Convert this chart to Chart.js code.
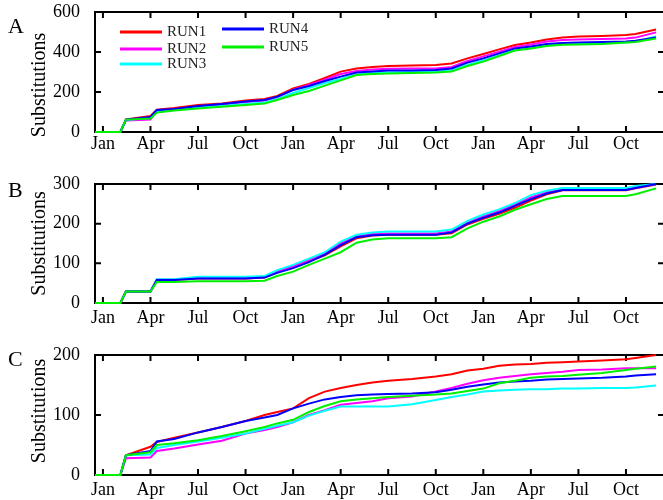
<!DOCTYPE html>
<html>
<head>
<meta charset="utf-8">
<script src="https://cdn.jsdelivr.net/npm/chart.js@4.4.0/dist/chart.umd.min.js"></script>
<style>
html, body { margin: 0; padding: 0; background: #fff; width: 663px; height: 500px; overflow: hidden; }
canvas { position: absolute; left: 0; }
</style>
</head>
<body>
<canvas id="panelA" width="670" height="170" style="top:0"></canvas>
<canvas id="panelB" width="670" height="170" style="top:170px"></canvas>
<canvas id="panelC" width="670" height="160" style="top:340px"></canvas>
<script>
// months since Jan of the first year
const months = [-0.5, 1.1, 1.45, 3.0, 3.4, 4.5, 6, 7.5, 9, 10.2, 11, 12, 13, 14, 15, 16, 17, 18, 19.5, 21, 22, 23, 24, 25, 26, 27, 28, 29, 30, 31.5, 33, 33.6, 34.9]
const monthTicks = [0, 3, 6, 9, 12, 15, 18, 21, 24, 27, 30, 33]
const tickNames = ["Jan", "Apr", "Jul", "Oct", "Jan", "Apr", "Jul", "Oct", "Jan", "Apr", "Jul", "Oct"]

const runNames = ["RUN1", "RUN2", "RUN3", "RUN4", "RUN5"]
const runColors = ["#ff0000", "#ff00ff", "#00ffff", "#0000ff", "#00f000"]

// panel A
const A_run1 = [0,0,63,80,112,120,135,142,157,165,180,218,240,270,302,318,325,330,332,335,343,368,390,413,435,447,463,472,477,480,485,490,513]
const A_run2 = [0,0,57,63,105,112,125,137,150,158,173,212,235,262,290,305,312,316,317,318,325,355,378,402,425,438,452,460,463,465,468,472,498]
const A_run3 = [0,0,60,70,100,110,122,130,140,148,165,195,220,245,265,288,296,298,300,302,308,335,358,383,410,420,433,440,442,444,448,452,478]
const A_run4 = [0,0,62,75,110,115,130,140,152,160,177,210,230,255,277,297,303,307,308,310,318,347,368,393,418,427,440,445,447,450,452,456,473]
const A_run5 = [0,0,62,68,97,108,118,126,135,143,160,185,205,232,258,285,290,293,295,297,302,330,352,380,407,418,430,436,438,440,447,450,468]

// panel B
const B_run1 = [0,0,29,29,58,58,62,62,62,64,78,90,105,120,143,163,170,172,172,172,176,198,212,225,240,258,274,284,284,284,284,289,299]
const B_run2 = [0,0,29,29,59,59,64,64,64,66,80,92,108,124,150,168,174,175,175,175,180,202,218,232,248,266,279,287,287,287,287,292,300]
const B_run3 = [0,0,29,29,60,60,66,66,66,68,83,96,112,128,155,172,178,180,180,180,185,207,223,236,252,272,283,290,290,290,290,295,300]
const B_run4 = [0,0,29,29,58,58,62,62,62,64,76,88,103,122,146,166,171,172,172,172,178,200,215,228,245,262,276,285,285,285,285,290,300]
const B_run5 = [0,0,29,29,53,53,55,55,55,56,68,79,96,112,128,152,160,163,163,163,166,188,205,218,235,249,262,270,270,270,270,274,289]

// panel C
const C_run1 = [0,0,33,47,55,62,71,80,90,100,105,111,128,139,145,150,154,157,160,164,168,174,177,182,184,185,187,188,189,191,193,195,200]
const C_run2 = [0,0,28,29,40,44,51,57,69,75,80,88,100,108,117,120,123,128,131,139,145,152,158,162,165,168,170,172,175,176,178,178,178]
const C_run3 = [0,0,33,34,45,50,56,62,69,77,82,88,99,107,114,114,114,114,118,125,130,134,139,141,142,143,143,144,144,145,145,146,149]
const C_run4 = [0,0,33,40,56,60,71,80,90,96,100,111,119,126,130,133,134,135,136,138,142,147,151,154,156,157,159,160,161,162,164,166,168]
const C_run5 = [0,0,33,38,50,53,58,65,73,80,86,92,105,115,123,126,128,130,132,134,136,140,144,153,157,162,164,165,167,170,175,177,181]

const serif = '"Liberation Serif", "Times New Roman", serif'
Chart.defaults.font.family = serif
Chart.defaults.font.size = 18
Chart.defaults.color = "#000"

// box frame with inward ticks (under the lines), panel letter and rotated axis title
const panelFrame = {
    id: "panelFrame",
    beforeDatasetsDraw(chart, args, opts) {
        const ctx = chart.ctx
        const a = chart.chartArea
        const x = chart.scales.x
        const y = chart.scales.y
        ctx.save()
        ctx.strokeStyle = "#000"
        ctx.lineWidth = 2
        ctx.strokeRect(a.left, a.top, a.right - a.left, a.bottom - a.top)
        ctx.beginPath()
        x.ticks.forEach(t => {
            const px = x.getPixelForValue(t.value)
            ctx.moveTo(px, a.top); ctx.lineTo(px, a.top + 6)
            ctx.moveTo(px, a.bottom); ctx.lineTo(px, a.bottom - 6)
        })
        y.ticks.forEach(t => {
            const py = y.getPixelForValue(t.value)
            ctx.moveTo(a.left, py); ctx.lineTo(a.left + 6, py)
            ctx.moveTo(a.right, py); ctx.lineTo(a.right - 6, py)
        })
        ctx.stroke()
        ctx.restore()
    },
    afterDraw(chart, args, opts) {
        const ctx = chart.ctx
        const a = chart.chartArea
        ctx.save()
        ctx.fillStyle = "#000"
        ctx.textBaseline = "middle"
        ctx.textAlign = "left"
        ctx.font = "22px " + serif
        ctx.fillText(opts.letter, 8, a.top + opts.letterDy)

        ctx.font = "20px " + serif
        ctx.textAlign = "center"
        ctx.translate(40, (a.top + a.bottom) / 2 + opts.titleDy)
        ctx.rotate(-Math.PI / 2)
        ctx.fillText("Substitutions", 0, 0)
        ctx.restore()
    }
}

// two-column legend inside panel A
const runLegend = {
    id: "runLegend",
    afterDraw(chart, args, opts) {
        if (!opts.show) return
        const ctx = chart.ctx
        const slots = [[120, 32], [120, 49], [120, 64], [222, 29], [222, 47]]
        ctx.save()
        ctx.font = "15px " + serif
        ctx.textBaseline = "middle"
        ctx.textAlign = "left"
        chart.data.datasets.forEach((ds, i) => {
            const [lx, ly] = slots[i]
            ctx.strokeStyle = ds.borderColor
            ctx.lineWidth = 3
            ctx.beginPath()
            ctx.moveTo(lx, ly); ctx.lineTo(lx + 42, ly)
            ctx.stroke()
            ctx.fillStyle = "#222"
            ctx.fillText(ds.label, lx + 47, ly)
        })
        ctx.restore()
    }
}

Chart.register(panelFrame, runLegend)

function makePanel(id, runs, yMax, pad, xHeight, labelPad, letter, letterDy, titleDy, showLegend) {
    const ctx = document.getElementById(id).getContext("2d")
    const datasets = runs.map((vals, i) => ({
        label: runNames[i],
        data: vals.map((v, k) => ({ x: months[k], y: v })),
        borderColor: runColors[i],
        backgroundColor: runColors[i],
        borderWidth: 2,
        pointRadius: 0,
        tension: 0,
        fill: false,
        clip: 3,
        order: runs.length - i
    }))
    return new Chart(ctx, {
        type: "line",
        data: { datasets: datasets },
        options: {
            responsive: false,
            animation: false,
            layout: { padding: { top: pad[0], right: 6, bottom: pad[1], left: 0 } },
            plugins: {
                legend: { display: false },
                tooltip: { enabled: false },
                panelFrame: { letter: letter, letterDy: letterDy, titleDy: titleDy },
                runLegend: { show: showLegend }
            },
            scales: {
                x: {
                    type: "linear",
                    min: -0.5,
                    max: 35.4,
                    afterBuildTicks: s => { s.ticks = monthTicks.map(v => ({ value: v })) },
                    afterFit: s => { s.height = xHeight; s.paddingLeft = 0; s.paddingRight = 0 },
                    ticks: {
                        autoSkip: false,
                        maxRotation: 0,
                        padding: labelPad,
                        callback: (v, i) => tickNames[i]
                    },
                    grid: { display: false, drawTicks: false },
                    border: { display: false }
                },
                y: {
                    min: 0,
                    max: yMax,
                    afterFit: s => { s.width = 95; s.paddingTop = 0; s.paddingBottom = 0 },
                    ticks: { stepSize: 100, padding: 15 },
                    grid: { display: false, drawTicks: false },
                    border: { display: false }
                }
            }
        }
    })
}

const chartA = makePanel("panelA", [A_run1, A_run2, A_run3, A_run4, A_run5], 600, [12, 8], 30, 1, "A", 15.5, 13, true)
const chartB = makePanel("panelB", [B_run1, B_run2, B_run3, B_run4, B_run5], 300, [14, 7], 30, 4, "B", 7, 0, false)
const chartC = makePanel("panelC", [C_run1, C_run2, C_run3, C_run4, C_run5], 200, [15, 0], 25, 4, "C", 5, -4, false)
</script>
</body>
</html>
